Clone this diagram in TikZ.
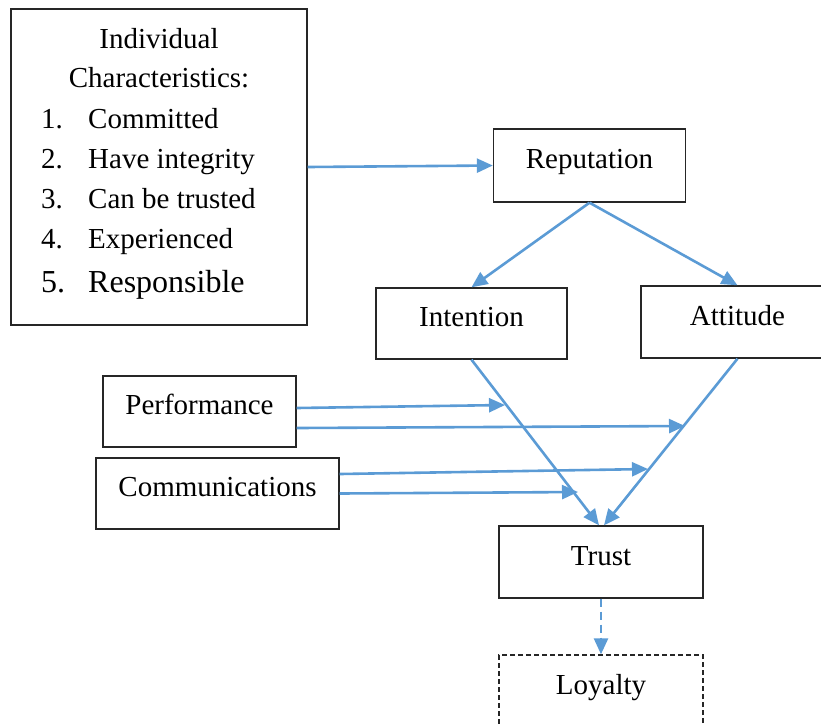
\documentclass[tikz,border=0pt]{standalone}
\usepackage{fontspec}
\setmainfont{Liberation Serif}
\usetikzlibrary{arrows.meta,calc}
\definecolor{arrowblue}{HTML}{5B9BD5}
\begin{document}
\begin{tikzpicture}[x=1pt,y=-1pt,
  box/.style={draw=black!85,line width=1.4pt,rectangle,inner sep=0pt,text height=20pt,text depth=14pt,font=\fontsize{29}{35}\selectfont},
  dashbox/.style={box,dash pattern=on 5pt off 3pt},
  txt/.style={inner sep=0pt,font=\fontsize{29}{35}\selectfont},
  bigtxt/.style={inner sep=0pt,font=\fontsize{32}{38}\selectfont},
  link/.style={draw=arrowblue,line width=2.6pt,-{Triangle[length=16pt,width=14pt]}},
  dlink/.style={link,dash pattern=on 8pt off 5pt}]
\clip (0,0) rectangle (821,724);
% individual characteristics box
\node[box,minimum width=296pt,minimum height=316pt] (ind) at (159,167) {};
\node[txt,anchor=base] (t1) at (159,48) {Individual};
\node[txt,anchor=base] (t2) at (159,87) {Characteristics:};
\node[txt,anchor=base west] (n1) at (41,128) {1.};
\node[txt,anchor=base west] (i1) at (88,128) {Committed};
\node[txt,anchor=base west] (n2) at (41,168) {2.};
\node[txt,anchor=base west] (i2) at (88,168) {Have integrity};
\node[txt,anchor=base west] (n3) at (41,208) {3.};
\node[txt,anchor=base west] (i3) at (88,208) {Can be trusted};
\node[txt,anchor=base west] (n4) at (41,248) {4.};
\node[txt,anchor=base west] (i4) at (88,248) {Experienced};
\node[bigtxt,anchor=base west] (n5) at (41,292) {5.};
\node[bigtxt,anchor=base west] (i5) at (88,292) {Responsible};
% boxes
\node[box,minimum width=192pt,minimum height=73pt] (rep) at (589.5,165.5) {Reputation};
\node[box,minimum width=191pt,minimum height=71pt] (int) at (471.5,323.5) {Intention};
\node[box,minimum width=193pt,minimum height=72pt] (att) at (737.5,322) {Attitude};
\node[box,minimum width=193pt,minimum height=71pt] (perf) at (199.5,411.5) {Performance};
\node[box,minimum width=243pt,minimum height=71pt] (comm) at (217.5,493.5) {Communications};
\node[box,minimum width=204pt,minimum height=72pt] (trust) at (601,562) {Trust};
\node[dashbox,minimum width=204pt,minimum height=72pt] (loy) at (601,691) {Loyalty};
% free arrow ends
\coordinate (p1) at (505,405);
\coordinate (p2) at (685,426);
\coordinate (c1) at (648,469);
\coordinate (c2) at (578,492);
% connectors
\draw[link] (ind.east) -- (rep.west);
\draw[link] (rep.south) -- (int.north);
\draw[link] (rep.south) -- (att.north);
\draw[link] (int.south) -- ([xshift=-2pt]trust.north);
\draw[link] (att.south) -- ([xshift=3pt]trust.north);
\draw[link] ([yshift=3.5pt]perf.east) -- (p1);
\draw[link] ([yshift=-16.5pt]perf.east) -- (p2);
\draw[link] ([yshift=19.5pt]comm.east) -- (c1);
\draw[link] (comm.east) -- (c2);
\draw[dlink] (trust.south) -- (loy.north);
\end{tikzpicture}
\end{document}
